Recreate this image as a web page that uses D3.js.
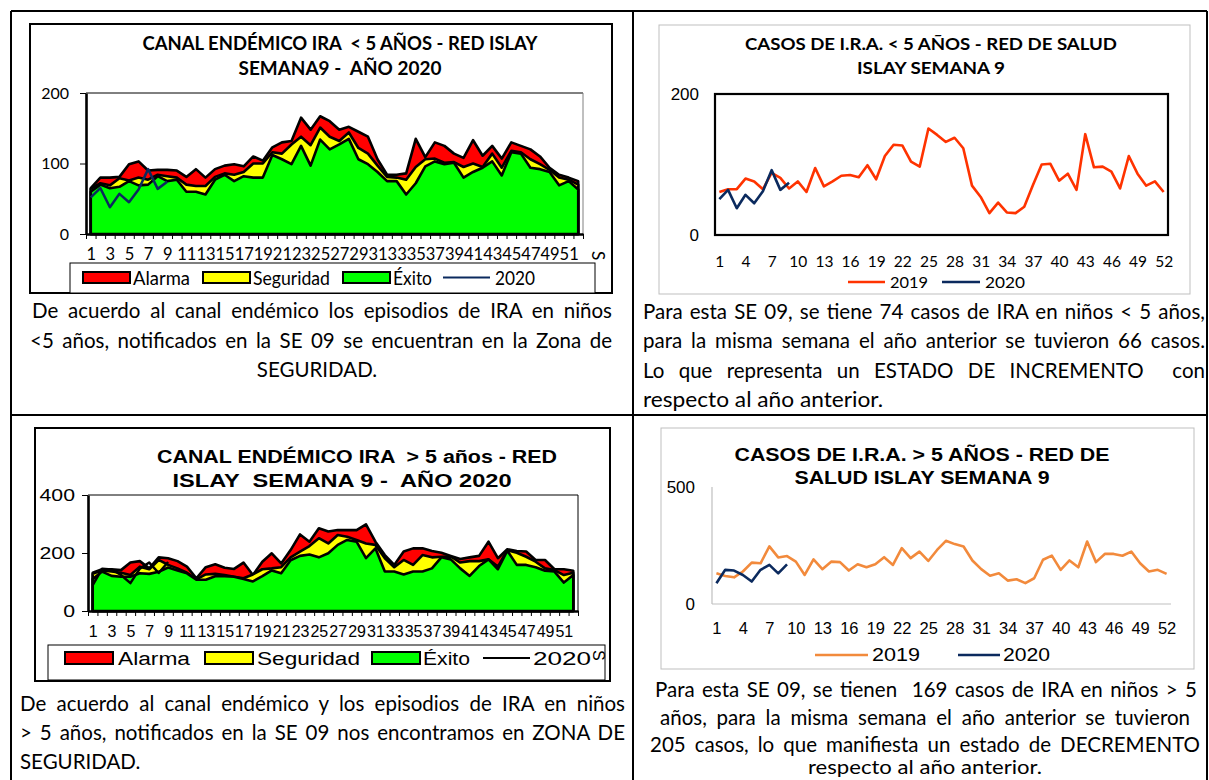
<!DOCTYPE html>
<html><head><meta charset="utf-8">
<script src="https://cdn.jsdelivr.net/npm/d3@7"></script>
<style>body{margin:0;background:#fff} svg{display:block}</style>
</head><body>
<svg id="c" width="1209" height="780"></svg>
<script>
// ---------- DATA ----------
const weeks = d3.range(1, 53);
const oddWeekLabels = [1,3,5,7,9,11,13,15,17,19,21,23,25,27,29,31,33,35,37,39,41,43,45,47,49,51];
const thirdWeekLabels = [1,4,7,10,13,16,19,22,25,28,31,34,37,40,43,46,49,52];

// Canal endémico < 5 años
const tlAlarma = [65,80,80,81,99,103,90,91,91,90,81,92,80,92,97,99,96,110,104,123,130,132,165,148,167,160,148,152,145,138,106,84,84,86,135,109,130,125,114,108,133,111,125,107,130,125,120,110,94,84,80,75];
const tlSeguridad = [64,72,69,79,76,80,77,84,82,80,70,68,68,81,86,84,88,100,100,116,114,127,138,126,151,138,132,144,122,114,97,81,80,77,95,106,107,101,102,95,100,95,114,94,118,116,106,99,91,80,77,70];
const tlExito = [60,70,65,67,75,69,70,82,75,77,60,60,56,77,84,75,82,80,80,112,106,99,125,97,134,120,127,135,106,99,88,75,75,56,72,96,103,99,101,80,88,94,103,83,116,114,94,92,88,69,75,63];
const tl2020 = [52,65,38,57,45,63,92,64,74];
const tlYTicks = [0,100,200];

// Casos < 5 años
const tr2019 = [61,65,65,80,76,65,88,81,66,76,61,95,69,76,84,85,82,99,79,112,128,127,104,97,151,142,132,138,123,70,54,31,46,32,31,40,71,100,101,77,87,64,143,96,97,90,66,112,87,70,76,61];
const tr2020 = [51,64,38,57,45,62,92,64,74];
const trYTicks = [0,200];

// Canal endémico > 5 años
const blAlarma = [132,144,144,141,167,172,147,185,182,172,153,113,151,161,149,145,167,124,170,199,164,210,264,239,285,274,279,279,279,299,239,193,159,205,216,216,207,201,190,179,185,190,239,182,213,207,205,176,176,144,144,139];
const blSeguridad = [128,140,136,132,124,153,144,176,159,147,132,109,126,128,124,118,113,126,144,147,151,185,205,224,251,233,262,256,245,233,228,182,151,176,159,193,185,187,188,167,172,172,178,153,210,201,187,170,147,141,124,132];
const blExito = [110,136,121,118,118,130,128,135,150,140,130,108,108,120,120,118,110,102,120,140,130,175,190,195,185,199,228,245,239,182,216,136,136,126,136,136,147,185,178,147,121,155,178,144,208,159,159,151,139,136,98,124];
const bl2020 = [89,146,143,124,96,146,167,131,169];
const blYTicks = [0,200,400];

// Casos > 5 años
const br2019 = [131,120,114,139,177,174,246,199,205,181,124,191,149,181,179,143,170,157,170,200,167,239,196,224,184,231,270,256,246,186,149,121,131,100,106,89,110,189,207,146,186,157,267,179,214,214,206,224,174,139,146,129];
const br2020 = [89,146,143,124,96,146,167,131,169];
const brYTicks = [0,500];

// ---------- DRAWING ----------
const svg = d3.select('#c');
const CAL = "Lato, 'Open Sans', sans-serif";
const ARI = "'Liberation Sans', Arial, sans-serif";
const NAVY = '#0B2A5E';

function txt(g, s, x, y, o = {}) {
  const t = g.append('text').attr('x', x).attr('y', y).text(s)
    .attr('font-family', o.ff || CAL).attr('font-size', o.fs || 19)
    .attr('font-weight', o.fw || 'normal').attr('text-anchor', o.anchor || 'start')
    .attr('fill', '#000').style('white-space', 'pre');
  if (o.len) t.attr('textLength', o.len).attr('lengthAdjust', o.adj || 'spacingAndGlyphs');
  if (o.just) {
    const n = t.node().getComputedTextLength();
    const sp = (s.match(/ /g) || []).length;
    if (sp) t.attr('word-spacing', (o.just - n) / sp);
  }
  return t;
}

function endemic(o) {
  const g = svg.append('g');
  g.append('rect').attr('x', o.box[0]).attr('y', o.box[1])
    .attr('width', o.box[2] - o.box[0]).attr('height', o.box[3] - o.box[1])
    .attr('fill', '#fff').attr('stroke', '#000').attr('stroke-width', 2);
  const x = d3.scalePoint().domain(weeks).range([o.x0, o.x1]).padding(0.5);
  const y = d3.scaleLinear().domain([0, o.max]).range([o.yb, o.yt]);
  g.append('line').attr('x1', o.x0).attr('x2', o.x1).attr('y1', o.yt).attr('y2', o.yt).attr('stroke', '#000').attr('stroke-width', 1);
  g.append('line').attr('x1', o.x1).attr('x2', o.x1).attr('y1', o.yt).attr('y2', o.yb).attr('stroke', o.rightColor).attr('stroke-width', 1);
  const area = d3.area().x(d => x(d.w)).y0(y(0)).y1(d => y(d.v));
  [[o.alarma, '#FF0000'], [o.seg, '#FFFF00'], [o.exito, '#00FF00']].forEach(([vals, c]) => {
    g.append('path').datum(weeks.map((w, i) => ({ w, v: vals[i] })))
      .attr('d', area).attr('fill', c).attr('stroke', '#000')
      .attr('stroke-width', 2.6).attr('stroke-linejoin', 'round');
  });
  const line = d3.line().x(d => x(d.w)).y(d => y(d.v));
  g.append('path').datum(o.cur.map((v, i) => ({ w: weeks[i], v })))
    .attr('d', line).attr('fill', 'none').attr('stroke', o.curColor)
    .attr('stroke-width', 2.5).attr('stroke-linejoin', 'round');
  const xb = d3.scaleLinear().domain([0, 52]).range([o.x0, o.x1]);
  const gx = g.append('g').attr('transform', `translate(0,${o.yb})`)
    .call(d3.axisBottom(xb).tickValues(d3.range(0, 53)).tickSize(5).tickSizeOuter(0).tickFormat(''));
  gx.select('.domain').attr('stroke-width', 2.6);
  const gl = g.append('g').attr('transform', `translate(0,${o.yb})`)
    .call(d3.axisBottom(x).tickValues(o.xLabels).tickSize(0).tickPadding(o.xPad));
  gl.select('.domain').remove();
  gl.selectAll('text').attr('font-family', o.ff).attr('font-size', o.xfs).attr('fill', '#000');
  const gy = g.append('g').attr('transform', `translate(${o.x0},0)`)
    .call(d3.axisLeft(y).tickValues(o.yTicks).tickSize(6).tickSizeOuter(0).tickPadding(o.yPad));
  gy.select('.domain').attr('stroke-width', 2.6);
  gy.selectAll('text').attr('font-family', o.ff).attr('font-size', o.yfs).attr('fill', '#000');
  if (o.yStretch) gy.selectAll('text').each(function () {
    const l = this.getComputedTextLength();
    d3.select(this).attr('textLength', l * o.yStretch).attr('lengthAdjust', 'spacingAndGlyphs');
  });
  o.titles.forEach(t => txt(g, t.s, t.x, t.y, { ff: o.ff, fs: o.tfs, fw: 'bold', anchor: 'middle', len: t.len }));
  const L = o.legend;
  g.append('rect').attr('x', L.box[0]).attr('y', L.box[1]).attr('width', L.box[2] - L.box[0])
    .attr('height', L.box[3] - L.box[1]).attr('fill', '#fff').attr('stroke', '#000').attr('stroke-width', 1);
  L.items.forEach(it => {
    if (it.type === 'sw') {
      g.append('rect').attr('x', it.x).attr('y', L.swY).attr('width', it.w).attr('height', L.swH)
        .attr('fill', it.c).attr('stroke', '#000').attr('stroke-width', 2);
    } else {
      g.append('line').attr('x1', it.x).attr('x2', it.x + it.w).attr('y1', L.swY + L.swH / 2).attr('y2', L.swY + L.swH / 2)
        .attr('stroke', it.c).attr('stroke-width', 2);
    }
    txt(g, it.label, it.tx, L.ty, { ff: o.ff, fs: L.fs, len: it.len });
  });
  txt(g, 'S', o.sMark[0], o.sMark[1], { ff: o.ff, fs: o.sMark[2] }).attr('transform', `rotate(90 ${o.sMark[0]} ${o.sMark[1]})`);
}

function lineChart(o) {
  const g = svg.append('g');
  g.append('rect').attr('x', o.frame[0]).attr('y', o.frame[1]).attr('width', o.frame[2] - o.frame[0])
    .attr('height', o.frame[3] - o.frame[1]).attr('fill', '#fff').attr('stroke', '#BFBFBF').attr('stroke-width', 1);
  const x = d3.scalePoint().domain(weeks).range([o.x0, o.x1]).padding(0.5);
  const y = d3.scaleLinear().domain([0, o.max]).range([o.yb, o.yt]);
  if (o.border) {
    g.append('rect').attr('x', o.x0).attr('y', o.yt).attr('width', o.x1 - o.x0).attr('height', o.yb - o.yt)
      .attr('fill', 'none').attr('stroke', '#000').attr('stroke-width', 2.2);
  } else {
    g.append('line').attr('x1', o.x0).attr('x2', o.x0).attr('y1', o.yt).attr('y2', o.yb).attr('stroke', '#BFBFBF').attr('stroke-width', 1.2);
    g.append('line').attr('x1', o.x0).attr('x2', o.x1).attr('y1', o.yb).attr('y2', o.yb).attr('stroke', '#BFBFBF').attr('stroke-width', 1.2);
  }
  const line = d3.line().x(d => x(d.w)).y(d => y(d.v));
  g.append('path').datum(o.prev.map((v, i) => ({ w: weeks[i], v }))).attr('d', line)
    .attr('fill', 'none').attr('stroke', o.prevColor).attr('stroke-width', 2.6).attr('stroke-linejoin', 'round');
  g.append('path').datum(o.cur.map((v, i) => ({ w: weeks[i], v }))).attr('d', line)
    .attr('fill', 'none').attr('stroke', NAVY).attr('stroke-width', 2.6).attr('stroke-linejoin', 'round');
  const gy = g.append('g').attr('transform', `translate(${o.x0},0)`)
    .call(d3.axisLeft(y).tickValues(o.yTicks).tickSize(0).tickPadding(o.yPad));
  gy.select('.domain').remove();
  gy.selectAll('text').attr('font-family', o.yff).attr('font-size', o.yfs).attr('fill', '#000');
  const gx = g.append('g').attr('transform', `translate(0,${o.yb})`)
    .call(d3.axisBottom(x).tickValues(o.xLabels).tickSize(0).tickPadding(o.xPad));
  gx.select('.domain').remove();
  gx.selectAll('text').attr('font-family', o.xff).attr('font-size', o.xfs).attr('fill', '#000');
  o.titles.forEach(t => txt(g, t.s, t.x, t.y, { ff: o.tff, fs: o.tfs, fw: 'bold', anchor: 'middle', len: t.len }));
  const L = o.legend;
  L.items.forEach(it => {
    g.append('line').attr('x1', it.x).attr('x2', it.x + it.w).attr('y1', L.ly).attr('y2', L.ly)
      .attr('stroke', it.c).attr('stroke-width', 2.6);
    txt(g, it.label, it.tx, L.ty, { ff: L.ff, fs: L.fs, len: it.len });
  });
}

// ---- Top-left: canal endémico < 5 años
endemic({
  box: [30, 24, 612, 293], x0: 86, x1: 583, yt: 93, yb: 234, max: 200,
  alarma: tlAlarma, seg: tlSeguridad, exito: tlExito, cur: tl2020, curColor: NAVY,
  rightColor: '#808080', xLabels: oddWeekLabels, yTicks: tlYTicks,
  ff: CAL, xfs: 16.5, xPad: 14, yfs: 16, yPad: 11,
  tfs: 19.5,
  titles: [
    { s: 'CANAL ENDÉMICO IRA  < 5 AÑOS - RED ISLAY', x: 340, y: 50, len: 395 },
    { s: 'SEMANA9 -  AÑO 2020', x: 340, y: 75, len: 203 }
  ],
  legend: {
    box: [70, 263, 595, 293], swY: 272, swH: 11, ty: 285, fs: 18.5,
    items: [
      { type: 'sw', x: 83, w: 47, c: '#FF0000', label: 'Alarma', tx: 133, len: 57 },
      { type: 'sw', x: 203, w: 47, c: '#FFFF00', label: 'Seguridad', tx: 253, len: 77 },
      { type: 'sw', x: 343, w: 47, c: '#00FF00', label: 'Éxito', tx: 393, len: 39 },
      { type: 'ln', x: 443, w: 47, c: NAVY, label: '2020', tx: 495, len: 40 }
    ]
  },
  sMark: [592, 251, 17]
});

// ---- Bottom-left: canal endémico > 5 años
endemic({
  box: [35, 428, 610, 681], x0: 88, x1: 578, yt: 495, yb: 611, max: 400,
  alarma: blAlarma, seg: blSeguridad, exito: blExito, cur: bl2020, curColor: '#000',
  rightColor: '#000', xLabels: oddWeekLabels, yTicks: blYTicks,
  ff: ARI, xfs: 16, xPad: 15, yfs: 17, yPad: 7, yStretch: 1.25,
  tfs: 18,
  titles: [
    { s: 'CANAL ENDÉMICO IRA  > 5 años - RED', x: 357, y: 463, len: 400 },
    { s: 'ISLAY  SEMANA 9 -  AÑO 2020', x: 342, y: 487, len: 339 }
  ],
  legend: {
    box: [48, 645, 605, 680], swY: 652, swH: 12, ty: 665, fs: 18,
    items: [
      { type: 'sw', x: 65, w: 48, c: '#FF0000', label: 'Alarma', tx: 118, len: 72 },
      { type: 'sw', x: 205, w: 48, c: '#FFFF00', label: 'Seguridad', tx: 257, len: 103 },
      { type: 'sw', x: 372, w: 48, c: '#00FF00', label: 'Éxito', tx: 423, len: 47 },
      { type: 'ln', x: 483, w: 47, c: '#000', label: '2020', tx: 533, len: 58 }
    ]
  },
  sMark: [593, 650, 16]
});

// ---- Top-right: casos < 5 años
lineChart({
  frame: [659, 25, 1190, 294], x0: 715, x1: 1168, yt: 94, yb: 235, max: 200, border: true,
  prev: tr2019, prevColor: '#FF3300', cur: tr2020,
  yTicks: trYTicks, yff: ARI, yfs: 17, yPad: 16,
  xLabels: thirdWeekLabels, xff: CAL, xfs: 15.5, xPad: 21,
  tff: CAL, tfs: 17,
  titles: [
    { s: 'CASOS DE I.R.A. < 5 AÑOS - RED DE SALUD', x: 931, y: 50, len: 372 },
    { s: 'ISLAY SEMANA 9', x: 931, y: 74, len: 148 }
  ],
  legend: {
    ly: 282, ty: 288, ff: CAL, fs: 16,
    items: [
      { x: 848, w: 37, c: '#FF3300', label: '2019', tx: 890, len: 38 },
      { x: 942, w: 38, c: NAVY, label: '2020', tx: 985, len: 40 }
    ]
  }
});

// ---- Bottom-right: casos > 5 años
lineChart({
  frame: [661, 428, 1194, 669], x0: 712, x1: 1171, yt: 487, yb: 604, max: 500, border: false,
  prev: br2019, prevColor: '#F28A3C', cur: br2020,
  yTicks: brYTicks, yff: ARI, yfs: 17, yPad: 17,
  xLabels: thirdWeekLabels, xff: ARI, xfs: 16.5, xPad: 18,
  tff: ARI, tfs: 18,
  titles: [
    { s: 'CASOS DE I.R.A. > 5 AÑOS - RED DE', x: 922, y: 461, len: 375 },
    { s: 'SALUD ISLAY SEMANA 9', x: 922, y: 484, len: 255 }
  ],
  legend: {
    ly: 655, ty: 661, ff: ARI, fs: 18,
    items: [
      { x: 815, w: 53, c: '#F28A3C', label: '2019', tx: 872, len: 48 },
      { x: 958, w: 42, c: NAVY, label: '2020', tx: 1003, len: 47 }
    ]
  }
});

// ---- Table borders
const tb = svg.append('g').attr('stroke', '#000').attr('stroke-width', 2);
[[11, 11, 1207, 11], [11, 415, 1207, 415], [11, 11, 11, 780], [633, 11, 633, 780], [1207, 11, 1207, 780]]
  .forEach(([a, b, c, d]) => tb.append('line').attr('x1', a).attr('y1', b).attr('x2', c).attr('y2', d));

// ---- Text paragraphs
const tg = svg.append('g');
const FS = 20.5;
txt(tg, 'De acuerdo al canal endémico los episodios de IRA en niños', 32, 318, { fs: FS, just: 580 });
txt(tg, '<5 años, notificados en la SE 09 se encuentran en la Zona de', 30, 348, { fs: FS, just: 582 });
txt(tg, 'SEGURIDAD.', 317, 377, { fs: FS, anchor: 'middle' });

txt(tg, 'Para esta SE 09, se tiene 74 casos de IRA en niños < 5 años,', 643, 319, { fs: FS, just: 562 });
txt(tg, 'para la misma semana el año anterior se tuvieron 66 casos.', 643, 348, { fs: FS, just: 562 });
txt(tg, 'Lo que representa un ESTADO DE INCREMENTO  con', 643, 378, { fs: FS, just: 562 });
txt(tg, 'respecto al año anterior.', 643, 407, { fs: FS, len: 240 });

txt(tg, 'De acuerdo al canal endémico y los episodios de IRA en niños', 20, 711, { fs: FS, just: 605 });
txt(tg, '> 5 años, notificados en la SE 09 nos encontramos en ZONA DE', 20, 740, { fs: FS, just: 605 });
txt(tg, 'SEGURIDAD.', 20, 769, { fs: FS });

txt(tg, 'Para esta SE 09, se tienen  169 casos de IRA en niños > 5', 926, 697, { fs: FS, anchor: 'middle', just: 542 });
txt(tg, 'años, para la misma semana el año anterior se tuvieron', 925, 725, { fs: FS, anchor: 'middle', just: 530 });
txt(tg, '205 casos, lo que manifiesta un estado de DECREMENTO', 925, 752, { fs: FS, anchor: 'middle', just: 550 });
txt(tg, 'respecto al año anterior.', 925, 774, { fs: 19.5, anchor: 'middle', len: 234 });
</script>
</body></html>
